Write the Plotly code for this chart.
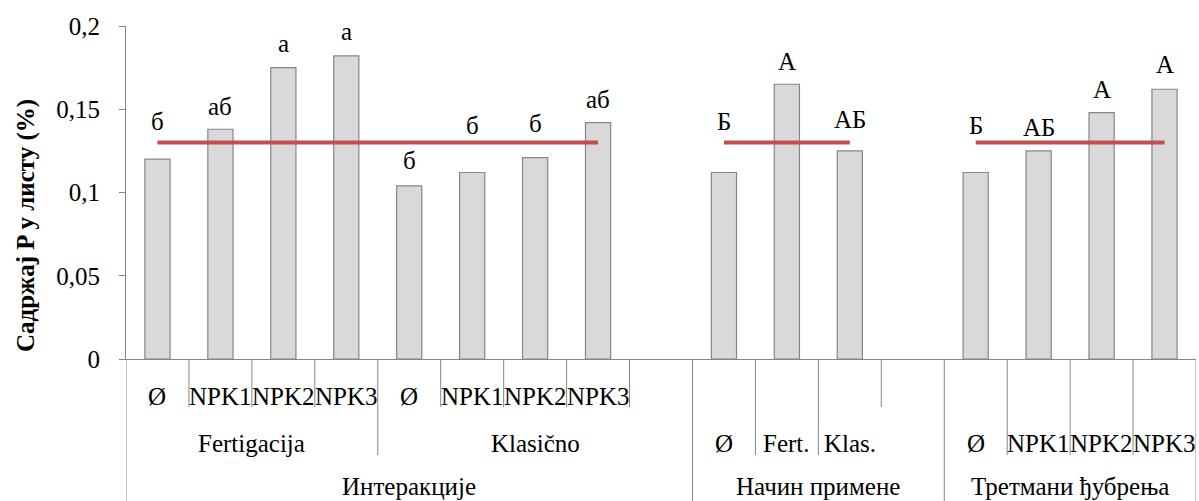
import plotly.graph_objects as go

# Interaction: application method x fertilizer treatment
treatments = ["Ø", "NPK1", "NPK2", "NPK3"]
fertigacija_p = [0.120, 0.138, 0.175, 0.182]
klasicno_p = [0.104, 0.112, 0.121, 0.142]
fertigacija_letters = ["б", "аб", "а", "а"]
klasicno_letters = ["б", "б", "б", "аб"]

# Main effect: application method
methods = ["Ø", "Fert.", "Klas."]
method_p = [0.112, 0.165, 0.125]
method_letters = ["Б", "А", "АБ"]

# Main effect: fertilizer treatment
treatment_p = [0.112, 0.125, 0.148, 0.162]
treatment_letters = ["Б", "АБ", "А", "А"]

# Reference level drawn across each block
reference_p = 0.13

group_names = ["Интеракције", "Начин примене", "Третмани ђубрења"]
subgroup_names = ["Fertigacija", "Klasično"]
y_title = "Садржај P у листу (%)"
y_ticks = [0, 0.05, 0.1, 0.15, 0.2]

# ---- build the category slots (one empty slot closes the first two blocks)
slots = []
for sub, vals, lets in [(subgroup_names[0], fertigacija_p, fertigacija_letters),
                        (subgroup_names[1], klasicno_p, klasicno_letters)]:
    for t, v, l in zip(treatments, vals, lets):
        slots.append(dict(id=f"{sub} {t}", value=v, letter=l, label=t, row=1))
slots.append(dict(id="Klasično _", value=None, letter=None, label="", row=1))
for m, v, l in zip(methods, method_p, method_letters):
    slots.append(dict(id=f"Način {m}", value=v, letter=l, label=m, row=2))
slots.append(dict(id="Način _", value=None, letter=None, label="", row=2))
for t, v, l in zip(treatments, treatment_p, treatment_letters):
    slots.append(dict(id=f"Tretman {t}", value=v, letter=l, label=t, row=2))

cats = [s["id"] for s in slots]
vals = [s["value"] for s in slots]
ref_line = [reference_p if s["value"] is not None else None for s in slots]

# ---- geometry / style
W, H = 1199, 501
M_L, M_R, M_T, M_B = 126, 3, 26, 142
plot_h = H - M_T - M_B
FONT = "Liberation Serif"
FS = 25
AXIS_COLOR = "#868686"

def below(px):
    """paper y coordinate for a point px pixels below the x axis"""
    return -px / plot_h

# letter label gaps (baseline above bar top, px)
letter_gap = [28, 13, 15, 15, 16, 38, 25, 14, 42, 13, 22, 38, 14, 14, 15]

# depth of each category boundary line: 1 = first label row, 2 = second row, 3 = full
boundary_depth = [3, 1, 1, 1, 2, 1, 1, 1, 1, 3, 2, 2, 1, 3, 2, 2, 2, 3]
depth_px = {1: 48, 2: 96, 3: M_B}

fig = go.Figure()
fig.add_trace(go.Bar(
    x=cats, y=vals,
    marker=dict(color="#D9D9D9", line=dict(color=AXIS_COLOR, width=1.2)),
    width=0.4, hoverinfo="x+y", showlegend=False,
))
fig.add_trace(go.Scatter(
    x=cats, y=ref_line, mode="lines",
    line=dict(color="#C0504D", width=4),
    connectgaps=False, showlegend=False,
))

annotations = []
# significance letters above bars
k = 0
for s in slots:
    if s["value"] is None:
        continue
    annotations.append(dict(
        x=s["id"], y=s["value"], xref="x", yref="y",
        text=s["letter"], showarrow=False, yanchor="bottom",
        yshift=letter_gap[k] - 6, font=dict(family=FONT, size=FS, color="black"),
    ))
    k += 1

# category labels
row_center = {1: 37, 2: 84, 3: 127}
for s in slots:
    if s["label"]:
        annotations.append(dict(
            x=s["id"], y=below(row_center[s["row"]]), xref="x", yref="paper",
            text=s["label"], showarrow=False, yanchor="middle",
            font=dict(family=FONT, size=FS, color="black"),
        ))
# sub-group labels in the interaction block
for name, center in zip(subgroup_names, [1.5, 6]):
    annotations.append(dict(
        x=center, y=below(row_center[2]), xref="x", yref="paper",
        text=name, showarrow=False, yanchor="middle",
        font=dict(family=FONT, size=FS, color="black"),
    ))
# block labels
for name, center in zip(group_names, [4, 10.5, 14.5]):
    annotations.append(dict(
        x=center, y=below(row_center[3]), xref="x", yref="paper",
        text=name, showarrow=False, yanchor="middle",
        font=dict(family=FONT, size=FS, color="black"),
    ))
# y axis title
annotations.append(dict(
    x=-(M_L - 26) / (W - M_L - M_R), y=(plot_h - (226 - M_T)) / plot_h,
    xref="paper", yref="paper", text=f"<b>{y_title}</b>", textangle=-90,
    showarrow=False, xanchor="center", yanchor="middle",
    font=dict(family=FONT, size=FS, color="black"),
))

shapes = []
for b, d in enumerate(boundary_depth):
    shapes.append(dict(
        type="line", xref="x", yref="paper",
        x0=b - 0.5, x1=b - 0.5, y0=0, y1=below(depth_px[d]),
        line=dict(color=AXIS_COLOR, width=1),
    ))

fig.update_layout(
    width=W, height=H,
    margin=dict(l=M_L, r=M_R, t=M_T, b=M_B),
    plot_bgcolor="white", paper_bgcolor="white",
    separators=", ",
    font=dict(family=FONT, size=FS, color="black"),
    annotations=annotations, shapes=shapes,
    xaxis=dict(
        type="category", categoryorder="array", categoryarray=cats,
        range=[-0.5, len(cats) - 0.5],
        showticklabels=False, ticks="", showgrid=False,
        showline=True, linecolor=AXIS_COLOR, linewidth=1,
        zeroline=False, automargin=False, fixedrange=True,
    ),
    yaxis=dict(
        range=[0, 0.2], tickvals=y_ticks, ticks="outside", ticklen=6,
        tickcolor=AXIS_COLOR, tickwidth=1,
        showline=True, linecolor=AXIS_COLOR, linewidth=1,
        showgrid=False, zeroline=False, automargin=False,
        ticklabelstandoff=14,
        tickfont=dict(family=FONT, size=FS, color="black"),
    ),
    bargap=0.6,
)

fig.write_html("out.html")
